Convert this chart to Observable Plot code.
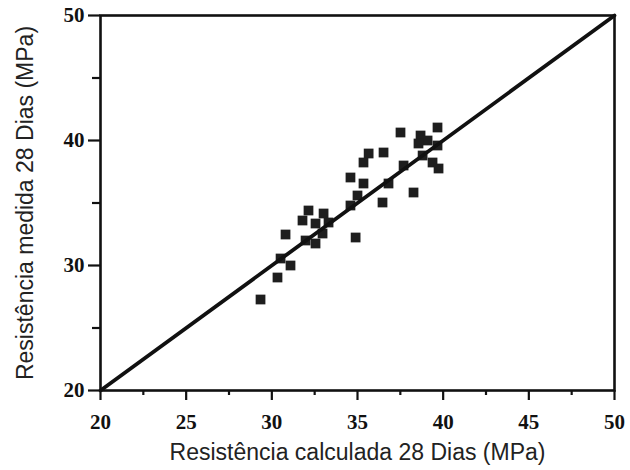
<!DOCTYPE html>
<html>
<head>
<meta charset="utf-8">
<script src="https://cdn.jsdelivr.net/npm/d3@7"></script>
<script src="https://cdn.jsdelivr.net/npm/@observablehq/plot@0.6"></script>
<style>
  html, body { margin: 0; padding: 0; background: #fff; }
  #chart { width: 630px; height: 470px; }
</style>
</head>
<body>
<div id="chart"></div>
<script>
// Resistência calculada (x) vs medida (y), 28 dias, MPa
const calculada = [29.34, 30.33, 30.51, 31.09, 30.80, 32.14, 33.02, 31.79, 32.55, 33.31,
                   32.96, 31.97, 32.55, 34.89, 34.59, 35.35, 35.00, 34.59, 35.65, 35.35,
                   36.52, 36.81, 36.46, 38.27, 37.51, 38.68, 39.09, 38.56, 39.67, 39.67,
                   38.80, 39.38, 39.73, 37.69];
const medida =     [27.28, 29.04, 30.56, 30.00, 32.48, 34.40, 34.16, 33.60, 33.36, 33.44,
                   32.56, 32.00, 31.76, 32.24, 37.04, 36.56, 35.60, 34.80, 38.96, 38.24,
                   39.04, 36.56, 35.04, 35.84, 40.64, 40.40, 40.00, 39.76, 41.04, 39.60,
                   38.80, 38.24, 37.76, 38.00];
const xTicks = [20, 25, 30, 35, 40, 45, 50];
const xMinorTicks = [22.5, 27.5, 32.5, 37.5, 42.5, 47.5];
const yTicks = [20, 30, 40, 50];
const yMinorTicks = [25, 35, 45];
const idealLine = [20, 50];
const xTitle = "Resistência calculada 28 Dias (MPa)";
const yTitle = "Resistência medida 28 Dias (MPa)";

const points = calculada.map((x, i) => ({x, y: medida[i]}));
const lineData = idealLine.map(v => ({x: v, y: v}));

const chart = Plot.plot({
  width: 630,
  height: 470,
  marginLeft: 100,
  marginRight: 16,
  marginTop: 15,
  marginBottom: 80,
  x: {domain: [20, 50]},
  y: {domain: [20, 50]},
  style: {background: "#fff"},
  marks: [
    Plot.dot(points, {x: "x", y: "y", symbol: "square", r: 5.5, fill: "#1e1e1e", stroke: "none"}),
    Plot.line(lineData, {x: "x", y: "y", stroke: "#111", strokeWidth: 3.8}),
    Plot.frame({stroke: "#111", strokeWidth: 2.6}),
    Plot.axisX({ticks: xTicks, tickSize: 10, tickPadding: 14, tickFormat: d => String(d),
      fontFamily: "Liberation Serif", fontSize: 21, fontWeight: "bold", fill: "#111", stroke: "#111", strokeWidth: 2.2,
      label: null}),
    Plot.axisX({ticks: xMinorTicks, tickSize: 5, tickFormat: () => "", stroke: "#111", strokeWidth: 2.2, label: null}),
    Plot.axisY({ticks: yTicks, tickSize: 12, tickPadding: 4, tickFormat: d => String(d),
      fontFamily: "Liberation Serif", fontSize: 21, fontWeight: "bold", fill: "#111", stroke: "#111", strokeWidth: 2.2,
      label: null}),
    Plot.axisY({ticks: yMinorTicks, tickSize: 8, tickFormat: () => "", stroke: "#111", strokeWidth: 2.2, label: null}),
    Plot.text([xTitle], {frameAnchor: "bottom", lineAnchor: "middle", dy: 62, fontFamily: "Liberation Sans", fontSize: 23, fill: "#222", text: d => d}),
    Plot.text([yTitle], {frameAnchor: "left", textAnchor: "middle", dx: -75, rotate: -90, fontFamily: "Liberation Sans", fontSize: 23, fill: "#222", text: d => d})
  ]
});
document.getElementById("chart").appendChild(chart);
</script>
</body>
</html>
